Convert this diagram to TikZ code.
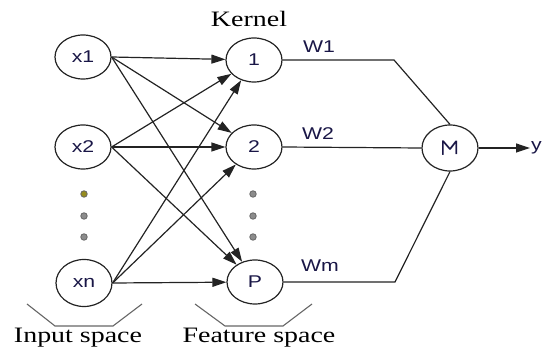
\documentclass[tikz,border=0pt]{standalone}
\usepackage{fontspec}
\setmainfont{Liberation Serif}
\newfontfamily\labsans[FakeStretch=1.25]{Liberation Sans}
\newfontfamily\labserif[FakeStretch=1.27]{Liberation Serif}
\usetikzlibrary{shapes.geometric,arrows.meta}
\definecolor{inkc}{RGB}{35,35,35}
\definecolor{txtc}{RGB}{25,22,70}
\definecolor{dotc}{RGB}{140,140,140}
\definecolor{dotyc}{RGB}{150,140,30}
\tikzset{
  neuron/.style={ellipse,draw=inkc,line width=1.2pt,minimum width=56pt,minimum height=44pt,inner sep=0pt,
    text=txtc,font=\labsans\fontsize{17}{20}\selectfont},
  conn/.style={draw=inkc,line width=1.2pt},
  arr/.style={conn,-{Triangle[length=14pt,width=9pt]}},
  wlab/.style={anchor=base,text=txtc,font=\labsans\fontsize{17}{20}\selectfont},
  caption/.style={anchor=base,text=black,font=\labserif\fontsize{22}{26}\selectfont},
  bracket/.style={draw=black!60,line width=1.1pt},
  dotn/.style={circle,draw=black!60,fill=dotc,minimum size=6.5pt,inner sep=0pt,line width=0.8pt}
}
\begin{document}
\begin{tikzpicture}[x=1pt,y=-1pt]
\useasboundingbox (0,0) rectangle (544,347);
% input nodes
\node[neuron] (x1) at (83,57) {x1};
\node[neuron] (x2) at (83,147) {x2};
\node[neuron,minimum height=47pt] (xn) at (84,283) {xn};
% kernel nodes
\node[neuron] (k1) at (254,60) {1};
\node[neuron] (k2) at (254,147) {2};
\node[neuron] (kP) at (255,282) {P};
% sum node
\node[neuron,minimum height=46pt] (sum) at (450,148) {\rotatebox{-90}{\labsans\fontsize{22}{24}\selectfont Σ}};
% arrows
\foreach \s in {x1,x2,xn}{
  \foreach \t in {k1,k2,kP}{
    \draw[arr] (\s.east) -- (\t);
  }
}
% weights to sum
\coordinate (b1) at (394,60);
\coordinate (bm) at (395,282);
\draw[conn] (k1.east) -- (b1) -- (sum.north);
\draw[conn] (k2.east) -- (sum.west);
\draw[conn] (kP.east) -- (bm) -- (sum.south);
\coordinate (yend) at (530,148);
\draw[arr] (sum.east) -- (yend);
\node[anchor=west,inner sep=1pt,text=txtc,font=\labsans\fontsize{17}{20}\selectfont] (ylab) at (yend) {y};
% weight labels
\node[wlab] (w1) at (319,53) {W1};
\node[wlab] (w2) at (318,140) {W2};
\node[wlab] (wm) at (320,272) {Wm};
% dots
\node[dotn,fill=dotyc] (d1) at (84,194) {};
\node[dotn] (d2) at (84,216) {};
\node[dotn] (d3) at (84,237) {};
\node[dotn] (e1) at (253,194) {};
\node[dotn] (e2) at (253,216) {};
\node[dotn] (e3) at (253,237) {};
% brackets
\draw[bracket] (27,304) -- (55,326) -- (113,326) -- (142,304);
\draw[bracket] (195,304) -- (225,326) -- (283,326) -- (312,304);
% captions
\node[caption] (kern) at (249,27) {Kernel};
\node[caption] (inp) at (78,343) {Input space};
\node[caption] (feat) at (259,343) {Feature space};
\end{tikzpicture}
\end{document}
